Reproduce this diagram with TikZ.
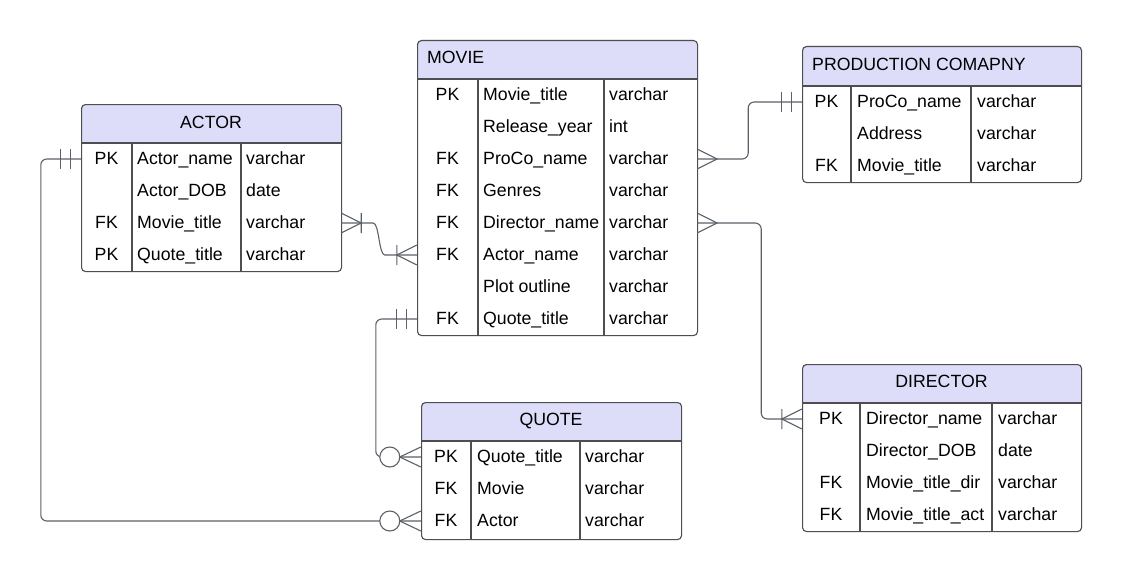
\documentclass[tikz,border=0pt]{standalone}
\usepackage{fontspec}
\setmainfont{Liberation Sans}
\usepackage{xcolor}

\definecolor{hdrblue}{RGB}{221,221,250}
\definecolor{boxgray}{RGB}{78,78,82}
\definecolor{linegray}{RGB}{92,97,104}

\begin{document}
\begin{tikzpicture}[x=1pt, y=-1pt,
  tbl/.style={draw=boxgray, line width=1.1pt, rounded corners=4pt, inner sep=0pt, anchor=north west},
  sep/.style={draw=boxgray, line width=1.1pt},
  hdr/.style={fill=hdrblue},
  txt/.style={font=\fontsize{17.7}{20}\selectfont, inner sep=0pt, anchor=base},
  txtl/.style={txt, anchor=base west},
  rowbox/.style={inner sep=0pt, minimum height=32pt},
  conn/.style={draw=linegray, line width=1.1pt, rounded corners=6pt},
  crowmany/.pic={\draw[conn, sharp corners] (0,-10) -- (20,0) -- (0,10);},
  crowbar/.pic={\draw[conn, sharp corners] (0,-10) -- (20,0) -- (0,10) (20,-10) -- (20,10);},
  crowone/.pic={\draw[conn, sharp corners] (10,-10) -- (10,10) (20,-10) -- (20,10);},
  crowzero/.pic={\draw[conn, sharp corners] (0,-10) -- (21,0) -- (0,10);
    \draw[conn, fill=white] (31,0) circle (10pt);}]
\path[use as bounding box, fill=white] (0,0) rectangle (1121,578);

% ACTOR table
\fill[hdr] (81,143) [rounded corners=4pt] -- (81,104) -- (341,104) -- (341,120) [sharp corners] -- (341,143) -- cycle;
\node[txt] (actor-h) at (211,128) {ACTOR};
\foreach \pk/\col/\typ [count=\i] in {PK/Actor\_name/varchar, /Actor\_DOB/date, FK/Movie\_title/varchar, PK/Quote\_title/varchar}{
  \node[rowbox, minimum width=260pt] (actor-\i) at (211,{127+32*\i}) {};
  \node[txt] at (106.5,{132+32*\i}) {\pk};
  \node[txtl] at (137,{132+32*\i}) {\col};
  \node[txtl] at (246,{132+32*\i}) {\typ};
}
\draw[sep] (81,143) -- (341,143) (132,143) -- (132,271) (241,143) -- (241,271);
\node[tbl, minimum width=260pt, minimum height=167pt] (actor) at (81,104) {};

% MOVIE table
\fill[hdr] (417,79) [rounded corners=4pt] -- (417,40) -- (697,40) -- (697,60) [sharp corners] -- (697,79) -- cycle;
\node[txtl] (movie-h) at (427,63.5) {MOVIE};
\foreach \pk/\col/\typ [count=\i] in {PK/Movie\_title/varchar, /Release\_year/int, FK/ProCo\_name/varchar, FK/Genres/varchar, FK/Director\_name/varchar, FK/Actor\_name/varchar, /Plot outline/varchar, FK/Quote\_title/varchar}{
  \node[rowbox, minimum width=280pt] (movie-\i) at (557,{63+32*\i}) {};
  \node[txt] at (447.5,{68+32*\i}) {\pk};
  \node[txtl] at (483,{68+32*\i}) {\col};
  \node[txtl] at (609,{68+32*\i}) {\typ};
}
\draw[sep] (417,79) -- (697,79) (478,79) -- (478,335) (604,79) -- (604,335);
\node[tbl, minimum width=280pt, minimum height=295pt] (movie) at (417,40) {};

% PRODUCTION COMAPNY table
\fill[hdr] (802,86) [rounded corners=4pt] -- (802,46) -- (1081,46) -- (1081,66) [sharp corners] -- (1081,86) -- cycle;
\node[txtl] (prod-h) at (812,70.5) {PRODUCTION COMAPNY};
\foreach \pk/\col/\typ [count=\i] in {PK/ProCo\_name/varchar, /Address/varchar, FK/Movie\_title/varchar}{
  \node[rowbox, minimum width=279pt] (prod-\i) at (941.5,{70+32*\i}) {};
  \node[txt] at (826.5,{75+32*\i}) {\pk};
  \node[txtl] at (857,{75+32*\i}) {\col};
  \node[txtl] at (977,{75+32*\i}) {\typ};
}
\draw[sep] (802,86) -- (1081,86) (851,86) -- (851,182) (971,86) -- (971,182);
\node[tbl, minimum width=279pt, minimum height=136pt] (prod) at (802,46) {};

% DIRECTOR table
\fill[hdr] (802,403) [rounded corners=4pt] -- (802,364) -- (1081,364) -- (1081,384) [sharp corners] -- (1081,403) -- cycle;
\node[txt] (dir-h) at (941.5,387.5) {DIRECTOR};
\foreach \pk/\col/\typ [count=\i] in {PK/Director\_name/varchar, /Director\_DOB/date, FK/Movie\_title\_dir/varchar, FK/Movie\_title\_act/varchar}{
  \node[rowbox, minimum width=279pt] (dir-\i) at (941.5,{387+32*\i}) {};
  \node[txt] at (831,{392+32*\i}) {\pk};
  \node[txtl] at (866,{392+32*\i}) {\col};
  \node[txtl] at (998,{392+32*\i}) {\typ};
}
\draw[sep] (802,403) -- (1081,403) (860,403) -- (860,531) (992,403) -- (992,531);
\node[tbl, minimum width=279pt, minimum height=167pt] (dir) at (802,364) {};

% QUOTE table
\fill[hdr] (421,441) [rounded corners=4pt] -- (421,402) -- (681,402) -- (681,422) [sharp corners] -- (681,441) -- cycle;
\node[txt] (quote-h) at (551,425.5) {QUOTE};
\foreach \pk/\col/\typ [count=\i] in {PK/Quote\_title/varchar, FK/Movie/varchar, FK/Actor/varchar}{
  \node[rowbox, minimum width=260pt] (quote-\i) at (551,{425+32*\i}) {};
  \node[txt] at (446,{430+32*\i}) {\pk};
  \node[txtl] at (477,{430+32*\i}) {\col};
  \node[txtl] at (585,{430+32*\i}) {\typ};
}
\draw[sep] (421,441) -- (681,441) (471,441) -- (471,539) (580,441) -- (580,539);
\node[tbl, minimum width=260pt, minimum height=137pt] (quote) at (421,402) {};

% relationships
\draw[conn] (actor-3.east) -- ++(26,0) .. controls +(12,0) and +(-12,0) .. ([xshift=-26pt]movie-6.west) -- (movie-6.west);
\draw[conn] (movie-3.east) -- ++(51,0) |- (prod-1.west);
\draw[conn] (movie-5.east) -- ++(64,0) |- (dir-1.west);
\draw[conn] (actor-1.west) -- ++(-40,0) |- (quote-3.west);
\draw[conn] (movie-8.west) -- ++(-41,0) |- (quote-1.west);

% crow's foot ends
\path (actor-3.east) pic{crowbar};
\path (movie-6.west) pic[rotate=180]{crowbar};
\path (movie-3.east) pic{crowmany};
\path (prod-1.west) pic[rotate=180]{crowone};
\path (movie-5.east) pic{crowmany};
\path (dir-1.west) pic[rotate=180]{crowbar};
\path (actor-1.west) pic[rotate=180]{crowone};
\path (quote-3.west) pic[rotate=180]{crowzero};
\path (movie-8.west) pic[rotate=180]{crowone};
\path (quote-1.west) pic[rotate=180]{crowzero};

\end{tikzpicture}
\end{document}
